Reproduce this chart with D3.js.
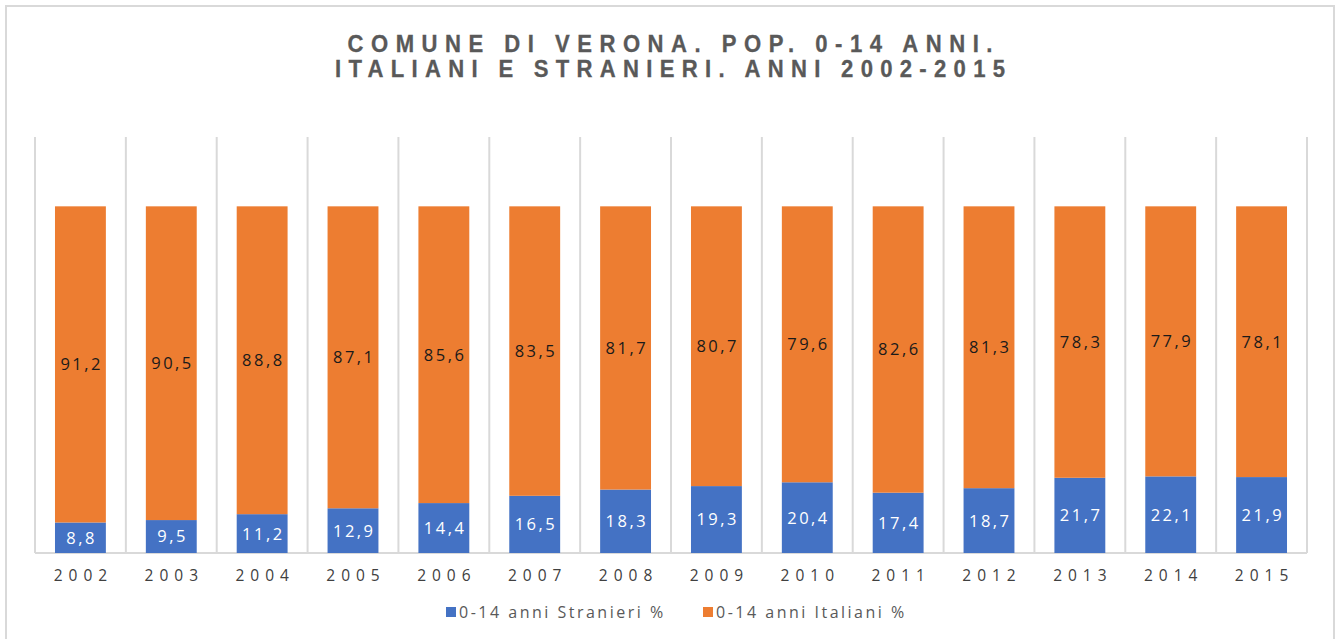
<!DOCTYPE html>
<html>
<head>
<meta charset="utf-8">
<script src="https://cdn.jsdelivr.net/npm/d3@7"></script>
<style>
  html, body { margin: 0; padding: 0; background: #fff; }
  svg { display: block; }
</style>
</head>
<body>
<svg id="chart" width="1340" height="639"></svg>
<script>
const years = ["2002","2003","2004","2005","2006","2007","2008","2009","2010","2011","2012","2013","2014","2015"];
const stranieri = [8.8, 9.5, 11.2, 12.9, 14.4, 16.5, 18.3, 19.3, 20.4, 17.4, 18.7, 21.7, 22.1, 21.9];
const italiani = [91.2, 90.5, 88.8, 87.1, 85.6, 83.5, 81.7, 80.7, 79.6, 82.6, 81.3, 78.3, 77.9, 78.1];
const seriesNames = ["0-14 anni Stranieri %", "0-14 anni Italiani %"];
const seriesColors = ["#4472C4", "#ED7D31"];
const labelColors = ["#ffffff", "#1a1a1a"];
const titleLines = ["COMUNE DI VERONA. POP. 0-14 ANNI.", "ITALIANI E STRANIERI. ANNI 2002-2015"];
const yMax = 120;

const svg = d3.select("#chart");

// outer frame
svg.append("rect").attr("x", 6).attr("y", 6).attr("width", 1328).attr("height", 650)
  .attr("fill", "#fff").attr("stroke", "#d9d9d9").attr("stroke-width", 2);

// title
const titleWidths = [645, 670];
const sx = 0.96;
titleLines.forEach((t, i) => {
  svg.append("g")
    .attr("transform", `translate(670, ${52 + i * 25}) scale(${sx}, 1)`)
    .append("text")
    .attr("x", 0).attr("y", 0)
    .attr("text-anchor", "middle")
    .attr("font-family", "'Liberation Sans', Arial, sans-serif")
    .attr("font-weight", "bold")
    .attr("font-size", 23)
    .attr("fill", "#595959")
    .attr("stroke", "#595959")
    .attr("stroke-width", 0.3)
    .attr("textLength", titleWidths[i] / sx)
    .attr("lengthAdjust", "spacing")
    .text(t);
});

const x = d3.scaleBand().domain(years).range([35, 1307]).paddingInner(0.44).paddingOuter(0.22);
const y = d3.scaleLinear().domain([0, yMax]).range([553, 137]);

// vertical gridlines at band boundaries
const bounds = d3.range(years.length + 1).map(i => 35 + i * (1272 / years.length));
svg.append("g").selectAll("line").data(bounds).join("line")
  .attr("x1", d => d).attr("x2", d => d)
  .attr("y1", y(yMax)).attr("y2", y(0))
  .attr("stroke", "#d9d9d9").attr("stroke-width", 2);

// baseline
svg.append("line").attr("x1", 35).attr("x2", 1307).attr("y1", y(0)).attr("y2", y(0))
  .attr("stroke", "#d9d9d9").attr("stroke-width", 2);

const table = years.map((yr, i) => ({ year: yr, s: stranieri[i], it: italiani[i] }));
const stacked = d3.stack().keys(["s", "it"])(table);

const groups = svg.append("g").selectAll("g").data(stacked).join("g")
  .attr("fill", (d, i) => seriesColors[i]);

groups.selectAll("rect").data(d => d).join("rect")
  .attr("x", d => x(d.data.year))
  .attr("width", x.bandwidth())
  .attr("y", d => y(d[1]))
  .attr("height", d => y(d[0]) - y(d[1]));

// value labels
const fmt = v => v.toFixed(1).replace(".", ",");
stacked.forEach((ser, si) => {
  svg.append("g").selectAll("text").data(ser).join("text")
    .attr("x", d => x(d.data.year) + x.bandwidth() / 2 + 1.25)
    .attr("y", d => y((d[0] + d[1]) / 2))
    .attr("dy", "0.36em")
    .attr("text-anchor", "middle")
    .attr("font-family", "'Open Sans', sans-serif")
    .attr("font-size", 16.5)
    .attr("letter-spacing", 2.5)
    .attr("fill", labelColors[si])
    .text(d => fmt(d[1] - d[0]));
});

// x axis labels
const xAxis = d3.axisBottom(x).tickSize(0).tickPadding(0);
const gx = svg.append("g").attr("transform", `translate(0, ${y(0)})`).call(xAxis);
gx.select(".domain").remove();
gx.selectAll("text")
  .attr("y", 28)
  .attr("dy", 0)
  .attr("dx", 3)
  .attr("font-family", "'Open Sans', sans-serif")
  .attr("font-size", 15.5)
  .attr("letter-spacing", 6)
  .attr("fill", "#404040");

// legend
const legendX = [446, 703];
const legend = svg.append("g");
seriesNames.forEach((n, i) => {
  const g = legend.append("g").attr("transform", `translate(${legendX[i]}, 612)`);
  g.append("rect").attr("x", 0).attr("y", -5).attr("width", 10).attr("height", 10).attr("fill", seriesColors[i]);
  g.append("text").attr("x", 13).attr("y", 0).attr("dy", "0.36em")
    .attr("font-family", "'Open Sans', sans-serif")
    .attr("font-size", 16)
    .attr("letter-spacing", 2.5)
    .attr("fill", "#595959")
    .text(n);
});
</script>
</body>
</html>
